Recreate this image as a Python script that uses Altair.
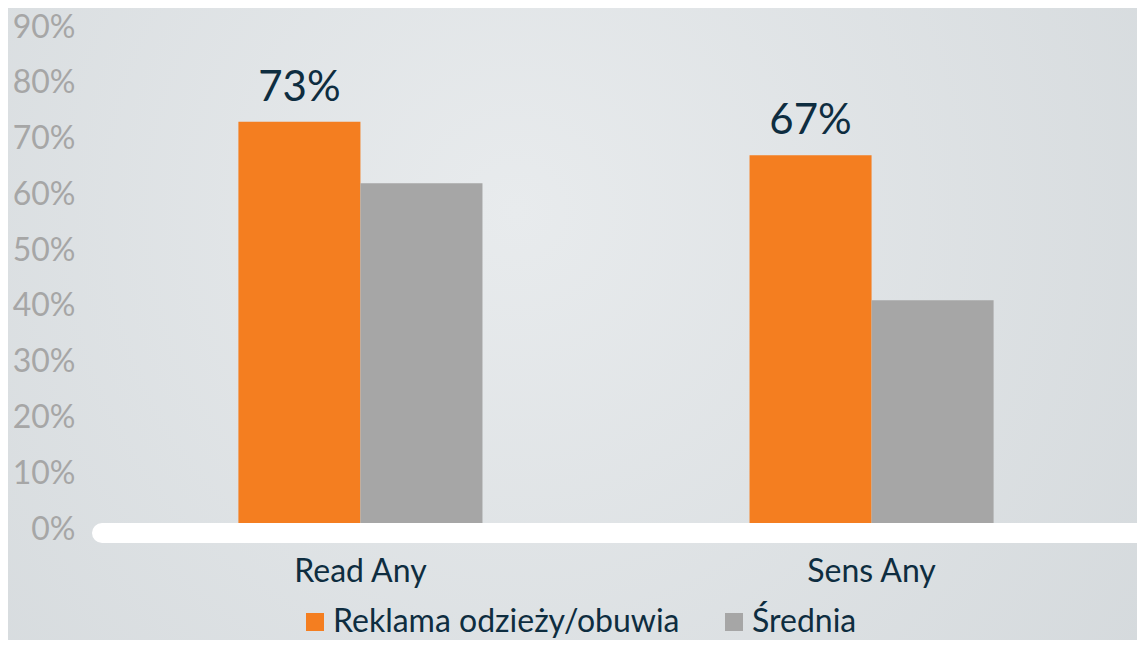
import altair as alt
import pandas as pd

categories = ["Read Any", "Sens Any"]
series = ["Reklama odzieży/obuwia", "Średnia"]
reklama_values = [0.73, 0.67]
srednia_values = [0.62, 0.41]
y_ticks = [0, 0.1, 0.2, 0.3, 0.4, 0.5, 0.6, 0.7, 0.8, 0.9]

rows = []
for c, v in zip(categories, reklama_values):
    rows.append({"cat": c, "series": series[0], "value": v})
for c, v in zip(categories, srednia_values):
    rows.append({"cat": c, "series": series[1], "value": v})
df = pd.DataFrame(rows)

W, H = 1022, 502
FONT = "Lato"
DARK = "#0e2d40"
ORANGE = "#f47e20"
GRAY = "#a6a6a6"

bg = alt.Chart(alt.Data(values=[{}])).mark_rect(
    color={
        "gradient": "radial",
        "stops": [
            {"offset": 0, "color": "#e8ebed"},
            {"offset": 1, "color": "#d3d8db"},
        ],
        "x1": 0.45, "y1": 0.4, "r1": 0,
        "x2": 0.45, "y2": 0.4, "r2": 0.75,
    }
).encode(
    x=alt.value(-97), x2=alt.value(1032), y=alt.value(-19), y2=alt.value(613)
)

base = alt.Chart(df)

x_enc = alt.X(
    "cat:N",
    sort=categories,
    title=None,
    scale=alt.Scale(paddingInner=0.5225, paddingOuter=0.261),
    axis=alt.Axis(
        labelAngle=0, labelFontSize=32, labelColor=DARK, labelFont=FONT,
        ticks=False, domain=False, labelPadding=27, zindex=2,
    ),
)

bars = base.mark_bar().encode(
    x=x_enc,
    xOffset=alt.XOffset("series:N", sort=series, scale=alt.Scale(paddingInner=0, paddingOuter=0)),
    y=alt.Y(
        "value:Q",
        title=None,
        scale=alt.Scale(domain=[0, 0.9], nice=False),
        axis=alt.Axis(
            values=y_ticks, format=".0%", labelFontSize=32, labelColor=GRAY,
            labelFont=FONT, grid=False, ticks=False, domain=False, labelPadding=30,
            zindex=2,
        ),
    ),
    color=alt.Color(
        "series:N",
        sort=series,
        scale=alt.Scale(domain=series, range=[ORANGE, GRAY]),
        legend=alt.Legend(
            title=None, orient="none", direction="horizontal",
            legendX=194, legendY=579, symbolType="square", symbolSize=324,
            symbolStrokeWidth=0, labelFontSize=32, labelColor=DARK, labelFont=FONT,
            labelLimit=0, columnPadding=38, labelOffset=2, zindex=2,
        ),
    ),
)

labels = base.transform_filter(
    alt.datum.series == series[0]
).mark_text(
    fontSize=42, font=FONT, color=DARK, baseline="alphabetic", dy=-21
).encode(
    x=alt.X("cat:N", sort=categories),
    xOffset=alt.XOffset("series:N", sort=series),
    y=alt.Y("value:Q"),
    text=alt.Text("value:Q", format=".0%"),
)

baseline = alt.Chart(alt.Data(values=[{}])).mark_rule(
    color="white", strokeWidth=20, strokeCap="round"
).encode(
    x=alt.value(-3), x2=alt.value(1060), y=alt.value(506)
)

chart = alt.layer(bg, bars, labels, baseline).properties(
    width=W, height=H,
    autosize=alt.AutoSizeParams(type="none"),
    padding={"left": 97, "top": 19, "right": 10, "bottom": 111},
    background="#d9dee1",
).configure_view(stroke=None)

chart.save("out.html", embed_options={"renderer": "svg", "actions": False})
